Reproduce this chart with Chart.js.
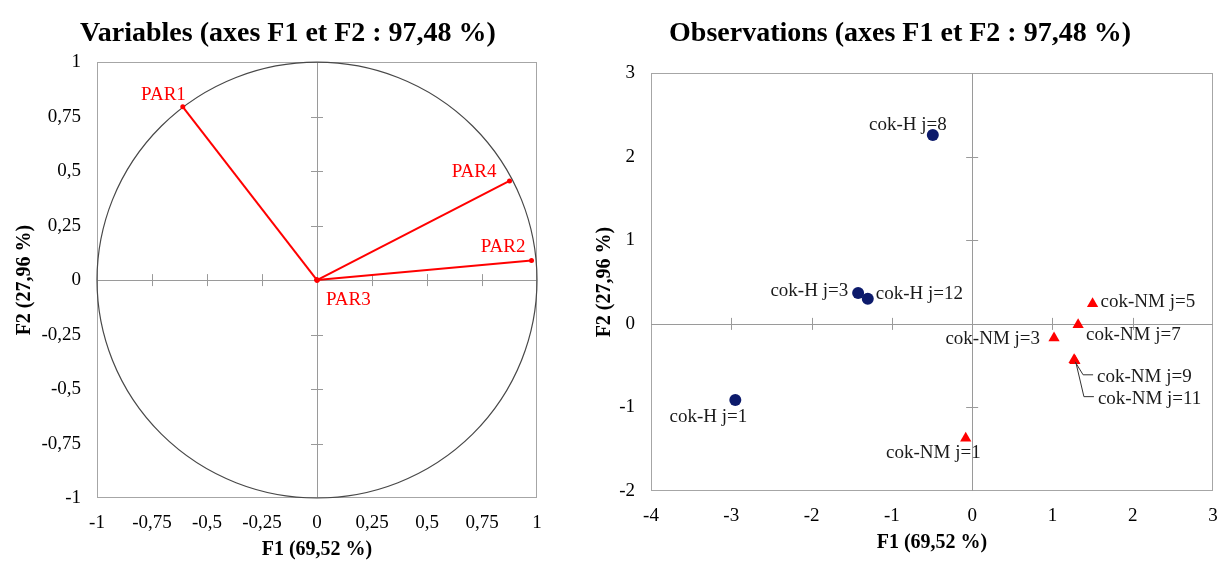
<!DOCTYPE html>
<html>
<head>
<meta charset="utf-8">
<script src="https://cdn.jsdelivr.net/npm/chart.js@4/dist/chart.umd.min.js"></script>
<style>
  body { margin: 0; background: #fff; width: 1226px; height: 562px; position: relative; overflow: hidden; }
  #variables { position: absolute; left: 0; top: 0; }
  #observations { position: absolute; left: 580px; top: 0; }
</style>
</head>
<body>
<canvas id="variables" width="576" height="562"></canvas>
<canvas id="observations" width="640" height="562"></canvas>
<script>
// --- data ---
var varNames = ["PAR1", "PAR2", "PAR3", "PAR4"];
var varF1 = [-0.61, 0.975, 0, 0.875];
var varF2 = [0.795, 0.09, 0, 0.455];

var obsH = ["cok-H j=1", "cok-H j=3", "cok-H j=8", "cok-H j=12"];
var obsHF1 = [-2.95, -1.42, -0.49, -1.30];
var obsHF2 = [-0.91, 0.37, 2.26, 0.30];

var obsNM = ["cok-NM j=1", "cok-NM j=3", "cok-NM j=5", "cok-NM j=7", "cok-NM j=9", "cok-NM j=11"];
var obsNMF1 = [-0.08, 1.02, 1.50, 1.32, 1.27, 1.28];
var obsNMF2 = [-1.37, -0.17, 0.24, -0.01, -0.43, -0.44];

var varTicks = [-1, -0.75, -0.5, -0.25, 0, 0.25, 0.5, 0.75, 1];
var obsXTicks = [-4, -3, -2, -1, 0, 1, 2, 3];
var obsYTicks = [-2, -1, 0, 1, 2, 3];

var chartTitle1 = "Variables (axes F1 et F2 : 97,48 %)";
var chartTitle2 = "Observations (axes F1 et F2 : 97,48 %)";
var xTitle = "F1 (69,52 %)";
var yTitle = "F2 (27,96 %)";

// --- label placement (pixel offsets from the point) ---
var labelPlace = {
  "PAR1": { dx: 3, dy: -12, align: "right" },
  "PAR2": { dx: -6, dy: -13, align: "right" },
  "PAR3": { dx: 9, dy: 20, align: "left" },
  "PAR4": { dx: -13, dy: -9, align: "right" },
  "cok-H j=1": { dx: 12, dy: 17, align: "right" },
  "cok-H j=3": { dx: -10, dy: -2, align: "right" },
  "cok-H j=8": { dx: 14, dy: -10, align: "right" },
  "cok-H j=12": { dx: 8, dy: -5, align: "left" },
  "cok-NM j=1": { dx: 15, dy: 15, align: "right" },
  "cok-NM j=3": { dx: -14, dy: 1, align: "right" },
  "cok-NM j=5": { dx: 8, dy: -2, align: "left" },
  "cok-NM j=7": { dx: 8, dy: 10, align: "left" },
  "cok-NM j=9": { dx: 23, dy: 17, align: "left", leader: true },
  "cok-NM j=11": { dx: 23, dy: 38, align: "left", leader: true }
};

var serif = "'Liberation Serif', 'Times New Roman', serif";
var tickFont = { family: serif, size: 19 };
var axisTitleFont = { family: serif, size: 20, weight: "bold" };
var titleFont = { family: serif, size: 28, weight: "bold" };

function comma(v) {
  return String(Math.round(v * 100) / 100).replace(".", ",");
}

function points(xs, ys) {
  return xs.map(function(x, i) { return { x: x, y: ys[i] }; });
}

function labelItems(names, xs, ys) {
  return names.map(function(n, i) { return { text: n, x: xs[i], y: ys[i] }; });
}

// frame, inner axes with tick marks, correlation circle, point labels
var pcaDecor = {
  id: "pcaDecor",
  beforeDatasetsDraw: function(chart, args, opts) {
    var ctx = chart.ctx, a = chart.chartArea;
    var sx = chart.scales.x, sy = chart.scales.y;
    var x0 = sx.getPixelForValue(0), y0 = sy.getPixelForValue(0);
    ctx.save();
    ctx.lineWidth = 1;
    ctx.strokeStyle = "#a6a6a6";
    ctx.strokeRect(Math.round(a.left) + 0.5, Math.round(a.top) + 0.5, Math.round(a.width) - 1, Math.round(a.height) - 1);
    ctx.strokeStyle = "#9a9a9a";
    ctx.beginPath();
    ctx.moveTo(a.left, Math.round(y0) + 0.5); ctx.lineTo(a.right, Math.round(y0) + 0.5);
    ctx.moveTo(Math.round(x0) + 0.5, a.top); ctx.lineTo(Math.round(x0) + 0.5, a.bottom);
    sx.ticks.forEach(function(t) {
      if (t.value === 0 || t.value === sx.min || t.value === sx.max) return;
      var px = Math.round(sx.getPixelForValue(t.value)) + 0.5;
      ctx.moveTo(px, y0 - 6); ctx.lineTo(px, y0 + 6);
    });
    sy.ticks.forEach(function(t) {
      if (t.value === 0 || t.value === sy.min || t.value === sy.max) return;
      var py = Math.round(sy.getPixelForValue(t.value)) + 0.5;
      ctx.moveTo(x0 - 6, py); ctx.lineTo(x0 + 6, py);
    });
    ctx.stroke();
    if (opts.circle) {
      ctx.strokeStyle = "#484848";
      ctx.lineWidth = 1.2;
      ctx.beginPath();
      ctx.ellipse(x0, y0, sx.getPixelForValue(1) - x0, y0 - sy.getPixelForValue(1), 0, 0, Math.PI * 2);
      ctx.stroke();
    }
    ctx.restore();
  },
  afterDatasetsDraw: function(chart, args, opts) {
    var ctx = chart.ctx;
    var sx = chart.scales.x, sy = chart.scales.y;
    ctx.save();
    ctx.font = "19px " + serif;
    ctx.textBaseline = "middle";
    (opts.labels || []).forEach(function(l) {
      var p = labelPlace[l.text];
      var px = sx.getPixelForValue(l.x), py = sy.getPixelForValue(l.y);
      if (p.leader) {
        ctx.strokeStyle = "#333";
        ctx.lineWidth = 1;
        ctx.beginPath();
        ctx.moveTo(px + 1, py + 2);
        ctx.lineTo(px + 9, py + p.dy - 2);
        ctx.lineTo(px + 19, py + p.dy - 2);
        ctx.stroke();
      }
      ctx.fillStyle = opts.color;
      ctx.textAlign = p.align;
      ctx.fillText(l.text, px + p.dx, py + p.dy);
    });
    ctx.restore();
  }
};

function axes(xt, yt, yWidth, xHeight, padRight, tickPadX, titleBottom) {
  return {
    x: {
      type: "linear", min: xt[0], max: xt[xt.length - 1],
      afterBuildTicks: function(s) { s.ticks = xt.map(function(v) { return { value: v }; }); },
      ticks: { font: tickFont, color: "#000", padding: tickPadX, callback: comma },
      grid: { display: false, drawTicks: false },
      border: { display: false },
      title: { display: true, text: xTitle, font: axisTitleFont, color: "#000", padding: { top: 0, bottom: titleBottom } },
      afterFit: function(s) { s.height = xHeight; s.paddingRight = padRight; }
    },
    y: {
      type: "linear", min: yt[0], max: yt[yt.length - 1],
      afterBuildTicks: function(s) { s.ticks = yt.map(function(v) { return { value: v }; }); },
      ticks: { font: tickFont, color: "#000", padding: 16, callback: comma },
      grid: { display: false, drawTicks: false },
      border: { display: false },
      title: { display: true, text: yTitle, font: axisTitleFont, color: "#000", padding: { top: 13, bottom: 0 } },
      afterFit: function(s) { s.width = yWidth; }
    }
  };
}

var vectorSets = varNames.map(function(n, i) {
  return {
    label: n,
    data: [{ x: 0, y: 0 }, { x: varF1[i], y: varF2[i] }],
    showLine: true,
    borderColor: "#ff0000",
    backgroundColor: "#ff0000",
    borderWidth: 2,
    pointRadius: 2.5,
    pointBorderWidth: 0
  };
});

new Chart(document.getElementById("variables"), {
  type: "scatter",
  data: { datasets: vectorSets },
  options: {
    responsive: false,
    animation: false,
    layout: { padding: 0 },
    scales: axes(varTicks, varTicks, 97, 64, 39, 14, 0),
    plugins: {
      legend: { display: false },
      tooltip: { enabled: false },
      title: { display: true, text: chartTitle1, font: titleFont, color: "#000", padding: { top: 17, bottom: 11.6 } },
      pcaDecor: { circle: true, color: "#ff0000", labels: labelItems(varNames, varF1, varF2) }
    }
  },
  plugins: [pcaDecor]
});

new Chart(document.getElementById("observations"), {
  type: "scatter",
  data: {
    datasets: [
      {
        label: "cok-H",
        data: points(obsHF1, obsHF2),
        pointStyle: "circle",
        pointRadius: 6,
        backgroundColor: "#0c1a6b",
        borderColor: "#0c1a6b",
        borderWidth: 0
      },
      {
        label: "cok-NM",
        data: points(obsNMF1, obsNMF2),
        pointStyle: "triangle",
        pointRadius: 6.5,
        backgroundColor: "#ff0000",
        borderColor: "#ff0000",
        borderWidth: 0
      }
    ]
  },
  options: {
    responsive: false,
    animation: false,
    layout: { padding: 0 },
    scales: axes(obsXTicks, obsYTicks, 71, 71, 7, 14, 7),
    plugins: {
      legend: { display: false },
      tooltip: { enabled: false },
      title: { display: true, text: chartTitle2, font: titleFont, color: "#000", padding: { top: 17, bottom: 22.6 } },
      pcaDecor: {
        circle: false,
        color: "#1a1a1a",
        labels: labelItems(obsH, obsHF1, obsHF2).concat(labelItems(obsNM, obsNMF1, obsNMF2))
      }
    }
  },
  plugins: [pcaDecor]
});
</script>
</body>
</html>
